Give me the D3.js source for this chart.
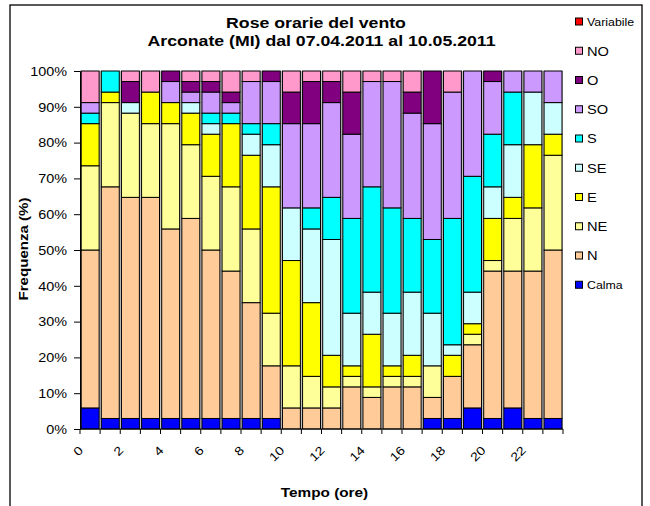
<!DOCTYPE html>
<html><head><meta charset="utf-8">
<script src="https://cdn.jsdelivr.net/npm/d3@7"></script>
<style>
html,body{margin:0;padding:0;background:#fff;}
svg text{font-family:Arial,"Liberation Sans",sans-serif;fill:#000;}
</style></head>
<body><svg id="c" width="650" height="506"></svg>
<script>
// ---- data (counts of days per hour, 34 days) ----
const hours = d3.range(0, 24);
const tickLabels = ["0","2","4","6","8","10","12","14","16","18","20","22"];
const yTicks = [0,0.1,0.2,0.3,0.4,0.5,0.6,0.7,0.8,0.9,1];
const seriesNames = ["Calma","N","NE","E","SE","S","SO","O","NO","Variabile"];
const Calma     = [2,1,1,1,1,1,1,1,1,1,0,0,0,0,0,0,0,1,1,2,1,2,1,1];
const N         = [15,22,21,21,18,19,16,14,11,5,2,2,2,4,3,4,4,2,4,6,14,13,14,16];
const NE        = [8,8,8,7,10,7,7,8,7,5,4,3,2,1,1,1,1,3,0,1,1,5,6,9];
const E         = [4,1,0,3,2,3,4,6,7,12,10,7,3,1,5,1,2,0,2,1,4,2,6,2];
const SE        = [0,0,1,0,0,1,1,0,2,4,5,7,11,5,4,5,6,5,1,3,3,5,5,3];
const S         = [1,2,0,0,0,0,1,1,1,2,0,2,4,9,10,10,7,7,12,11,5,5,0,0];
const SO        = [1,0,0,0,2,1,2,1,4,4,8,8,9,8,10,12,10,11,12,10,5,2,2,3];
const O         = [0,0,2,0,1,1,1,1,0,1,3,4,2,4,0,0,2,5,0,0,1,0,0,0];
const NO        = [3,0,1,2,0,1,1,2,1,0,2,1,1,2,1,1,2,0,2,0,0,0,0,0];
const Variabile = [0,0,0,0,0,0,0,0,0,0,0,0,0,0,0,0,0,0,0,0,0,0,0,0];
const seriesValues = {Calma,N,NE,E,SE,S,SO,O,NO,Variabile};
const colors = {Calma:"#0000FF",N:"#FFCC99",NE:"#FFFF99",E:"#FFFF00",SE:"#CCFFFF",
  S:"#00FFFF",SO:"#CC99FF",O:"#800080",NO:"#FF99CC",Variabile:"#FF0000"};
const titleLines = ["Rose orarie del vento","Arconate (MI) dal 07.04.2011 al 10.05.2011"];

// ---- layout ----
const svg = d3.select("#c");
const L = 80, R = 563, T = 71, B = 429;
const SX = 1.18; // horizontal text stretch

svg.append("rect").attr("x",10).attr("y",5).attr("width",632).attr("height",520)
  .attr("fill","#fff").attr("stroke","#000").attr("stroke-width",1.3);

const x = d3.scaleBand().domain(hours).range([L, R]).padding(0);
const y = d3.scaleLinear().domain([0,1]).range([B, T]);

svg.append("rect").attr("x",L).attr("y",T).attr("width",R-L).attr("height",B-T).attr("fill","#C0C0C0");

const rows = hours.map((h,i)=>{const o={hour:h}; seriesNames.forEach(k=>o[k]=seriesValues[k][i]); return o;});
const stacked = d3.stack().keys(seriesNames).offset(d3.stackOffsetExpand)(rows);

const bw = x.bandwidth();
stacked.forEach(s=>{
  svg.append("g").selectAll("rect").data(s.filter(d=>d[1]-d[0]>1e-9)).join("rect")
    .attr("x", d=>x(d.data.hour)+1.2)
    .attr("width", bw-2.2)
    .attr("y", d=>y(d[1]))
    .attr("height", d=>y(d[0])-y(d[1]))
    .attr("fill", colors[s.key])
    .attr("stroke","#000").attr("stroke-width",1);
});

// axes
const gy = svg.append("g").attr("transform",`translate(${L},0)`)
  .call(d3.axisLeft(y).tickValues(yTicks).tickSize(6).tickPadding(8).tickFormat(d3.format(".0%")));
gy.select(".domain").attr("stroke","#000");
gy.selectAll(".tick line").attr("stroke","#000");
gy.selectAll(".tick text").attr("font-size",12).attr("font-family","Arial, Liberation Sans")
  .attr("transform","translate(-6,0) scale(1.2,1)").attr("x",-2).attr("dy","0.36em");
gy.selectAll(".tick text").each(function(){ // keep right edge fixed at x=-14 after stretch
  d3.select(this).attr("transform",null).attr("x",null)
    .attr("transform","translate(-13,0) scale(1.2,1)");
});

// x axis line + ticks at category boundaries
const xa = svg.append("g");
xa.append("line").attr("x1",L).attr("x2",R).attr("y1",B).attr("y2",B).attr("stroke","#000");
const bounds = hours.concat([24]);
xa.selectAll("line.t").data(bounds).join("line").attr("class","t")
  .attr("x1",h=>h<24?x(h):R).attr("x2",h=>h<24?x(h):R)
  .attr("y1",B).attr("y2",B+5).attr("stroke","#000");
xa.selectAll("text").data(tickLabels).join("text")
  .attr("transform",d=>`translate(${x(+d)+1},${B+19}) rotate(-45) scale(1.2,1)`)
  .attr("text-anchor","end").attr("dy","0.35em").attr("font-size",12).text(d=>d);

// titles
svg.append("text").attr("transform",`translate(316,27.5) scale(${SX},1)`).attr("text-anchor","middle")
  .attr("font-size",15).attr("font-weight","bold").text(titleLines[0]);
svg.append("text").attr("transform",`translate(321.5,46) scale(${SX},1)`).attr("text-anchor","middle")
  .attr("font-size",15).attr("font-weight","bold").text(titleLines[1]);
svg.append("text").attr("transform",`translate(324.5,497) scale(${SX},1)`).attr("text-anchor","middle")
  .attr("font-size",13).attr("font-weight","bold").text("Tempo (ore)");
svg.append("text").attr("transform",`translate(28,249) rotate(-90) scale(1.16,1)`).attr("text-anchor","middle")
  .attr("font-size",13).attr("font-weight","bold").text("Frequenza (%)");

// legend (top to bottom: reverse order)
const legendOrder = seriesNames.slice().reverse();
const lg = svg.append("g");
legendOrder.forEach((k,i)=>{
  const cy = 22 + i*29.25;
  lg.append("rect").attr("x",575.5).attr("y",cy-4).attr("width",7).attr("height",7)
    .attr("fill",colors[k]).attr("stroke","#000").attr("stroke-width",1);
  const small = (k==="Variabile"||k==="Calma");
  lg.append("text").attr("transform",`translate(587,${cy}) scale(1.2,1)`).attr("dy","0.36em")
    .attr("font-size",small?10.3:12.2).text(k);
});
</script></body></html>
